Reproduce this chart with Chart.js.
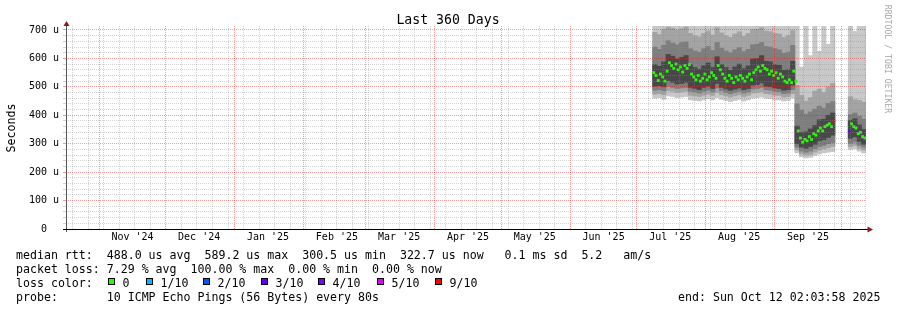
<!DOCTYPE html>
<html>
<head>
<meta charset="utf-8">
<script src="https://cdn.jsdelivr.net/npm/chart.js"></script>
<style>
  html, body { margin: 0; padding: 0; background: #fff; overflow: hidden; }
  #wrap { position: relative; width: 897px; height: 310px; font-family: 'DejaVu Sans Mono', monospace; color: #000; }
  #myChart { position: absolute; left: 0; top: 0; }
  .row { position: absolute; left: 16px; white-space: pre; font-size: 11.6px; line-height: 14px; }
  #title { position: absolute; left: 0; top: 11.5px; width: 896px; text-align: center; font-size: 13.2px; line-height: 16px; white-space: pre; }
  #ylab { position: absolute; left: -29px; top: 120.5px; width: 80px; height: 14px; line-height: 14px; text-align: center; font-size: 11.6px; transform: rotate(-90deg); }
  #mark { position: absolute; left: 828px; top: 54px; width: 120px; height: 10px; line-height: 10px; text-align: center; font-size: 8.2px; color: #a8a8a8; transform: rotate(90deg); white-space: pre; }
  .box { position: absolute; width: 7px; height: 7px; box-sizing: border-box; border: 1px solid #000; top: 278px; }
  .boxlab { position: absolute; top: 275.5px; font-size: 11.6px; line-height: 14px; white-space: pre; }
</style>
</head>
<body>
<div id="wrap">
  <canvas id="myChart" width="897" height="310"></canvas>
  <div id="title">Last 360 Days</div>
  <div id="ylab">Seconds</div>
  <div id="mark">RRDTOOL / TOBI OETIKER</div>
  <div class="row" style="top:247.5px">median rtt:  488.0 us avg  589.2 us max  300.5 us min  322.7 us now   0.1 ms sd  5.2   am/s</div>
  <div class="row" style="top:261.5px">packet loss: 7.29 % avg  100.00 % max  0.00 % min  0.00 % now</div>
  <div class="row" style="top:275.5px">loss color:</div>
  <div class="row" style="top:289.5px">probe:       10 ICMP Echo Pings (56 Bytes) every 80s</div>
  <div class="row" style="top:289.5px; left:678px">end: Sun Oct 12 02:03:58 2025</div>
</div>
<script>
const DAY = 86400000;
const endTime = Date.UTC(2025, 9, 12, 2, 3, 58);
const spanDays = 360;
const startTime = endTime - spanDays * DAY;

// tick labels
const monthLabels = ["Nov '24", "Dec '24", "Jan '25", "Feb '25", "Mar '25", "Apr '25", "May '25", "Jun '25", "Jul '25", "Aug '25", "Sep '25"];
const yLabels = ['0  ', '100 u', '200 u', '300 u', '400 u', '500 u', '600 u', '700 u'];
const yMax = 714;

// loss legend
const lossLabels = ['0', '1/10', '2/10', '3/10', '4/10', '5/10', '9/10'];
const lossColors = ['#26ff00', '#00b8ff', '#0059ff', '#5e00ff', '#7e00ff', '#dd00ff', '#ff0000'];

// smoke, one slot = 2 days, value = slot centre (days since start), rtt in us
const smokeDays = [265, 267, 269, 271, 273, 275, 277, 279, 281, 283, 285, 287, 289, 291, 293, 295,
  297, 299, 301, 303, 305, 307, 309, 311, 313, 315, 317, 319, 321, 323, 325, 327,
  329, 331, 333, 335, 337, 339, 341, 343, 345,
  353, 355, 357, 359];
const smokeMax = [720, 720, 720, 720, 720, 720, 720, 720, 720, 720, 720, 720, 720, 720, 720, 720,
  720, 720, 720, 720, 720, 720, 720, 720, 720, 720, 720, 720, 720, 720, 720, 720,
  720, 570, 720, 610, 720, 625, 720, 650, 720,
  720, 695, 720, 720];
const smokeHi2 = [692, 684, 702, 710, 706, 700, 704, 710, 688, 680, 676, 688, 696, 682, 708, 690,
  680, 674, 686, 694, 678, 688, 702, 702, 708, 696, 694, 688, 686, 674, 680, 698,
  505, 470, 450, 462, 485, 492, 480, 500, 512,
  465, 455, 452, 446];
const smokeHi3 = [640, 632, 646, 662, 654, 648, 656, 658, 634, 626, 622, 634, 642, 628, 656, 636,
  626, 620, 630, 638, 624, 632, 648, 650, 656, 642, 640, 634, 630, 618, 622, 646,
  440, 418, 404, 412, 422, 432, 425, 442, 448,
  402, 408, 396, 386];
const smokeHi4 = [578, 572, 588, 614, 608, 598, 604, 610, 578, 568, 562, 574, 584, 568, 606, 578,
  568, 558, 570, 580, 564, 574, 598, 600, 610, 590, 588, 578, 576, 558, 560, 590,
  362, 340, 342, 352, 364, 384, 386, 400, 408,
  382, 388, 366, 350];
const smokeLo4 = [502, 504, 500, 522, 516, 510, 512, 516, 498, 494, 490, 498, 502, 494, 512, 498,
  492, 488, 492, 496, 490, 494, 506, 508, 514, 502, 500, 496, 494, 488, 490, 506,
  300, 288, 284, 290, 298, 310, 314, 322, 330,
  318, 324, 308, 298];
const smokeLo3 = [488, 490, 486, 502, 498, 494, 496, 498, 484, 482, 478, 484, 488, 482, 496, 486,
  480, 476, 480, 484, 478, 482, 492, 494, 498, 490, 488, 484, 482, 476, 478, 490,
  288, 274, 270, 274, 282, 290, 294, 300, 304,
  302, 306, 294, 288];
const smokeLo2 = [474, 476, 472, 486, 484, 480, 482, 484, 470, 468, 466, 470, 474, 470, 480, 472,
  468, 464, 468, 472, 466, 470, 478, 480, 482, 476, 474, 470, 470, 464, 466, 476,
  278, 264, 260, 262, 270, 278, 282, 286, 290,
  290, 294, 284, 278];
const smokeMin = [460, 462, 456, 468, 466, 462, 464, 466, 454, 452, 450, 454, 458, 454, 462, 456,
  452, 448, 452, 456, 450, 454, 460, 462, 464, 460, 458, 454, 454, 450, 452, 460,
  268, 254, 250, 252, 258, 264, 268, 270, 272,
  280, 282, 274, 268];

// daily median rtt, three runs of data
const medianStart = [264, 329, 352];
const medianJul = [550, 540, 522, 545, 535, 520, 555, 585, 575, 565, 580, 560, 570, 552, 575, 565,
  578, 545, 535, 525, 540, 520, 530, 545, 525, 535, 550, 540, 530, 575, 560, 545,
  530, 520, 540, 530, 515, 535, 525, 540, 530, 520, 535, 545, 525, 550, 560, 570,
  555, 575, 565, 560, 545, 555, 540, 550, 530, 545, 535, 520, 515, 525, 515, 555, 520];
const medianSep = [345, 320, 305, 315, 310, 325, 315, 335, 330, 345, 355, 345, 360, 365, 370, 360, 380];
const medianOct = [342, 370, 360, 355, 335, 340, 325, 320];
const lossDays = [345, 352];
const lossLevel = ['9/10', '3/10'];

// ---------- build
const toDay = t => (t - startTime) / DAY;
const monthMid = monthLabels.map((m, i) => toDay(Date.UTC(2024, 10 + i, 16)));

const monthLines = [];
for (let i = 0; i < 12; i++) monthLines.push(toDay(Date.UTC(2024, 10 + i, 1)));
const weekLines = [];
for (let d = toDay(Date.UTC(2024, 9, 20)); d < spanDays; d += 7) {
    if (!monthLines.some(m => Math.abs(m - d) < 0.5)) weekLines.push(d);
}

const yGrid = [];
for (let v = 0; v <= 700; v += 20) yGrid.push(v);

const minorGrid = 'rgba(140,140,140,0.38)';
const majorGrid = 'rgba(230,30,30,0.45)';

function band(lo, hi, color, order) {
    return {
        type: 'bar',
        data: smokeDays.map((d, i) => ({ x: d, y: [lo[i], hi[i]] })),
        backgroundColor: color,
        borderWidth: 0,
        grouped: false,
        barPercentage: 1,
        categoryPercentage: 1,
        clip: 0,
        order: order
    };
}

function gridAxis(values, color) {
    return {
        type: 'linear',
        position: 'bottom',
        min: 0,
        max: spanDays,
        offset: false,
        afterBuildTicks: s => { s.ticks = values.map(v => ({ value: v })); },
        afterFit: s => { s.height = 0; },
        grid: { color: color, z: 1, drawTicks: false, offset: false },
        border: { display: false, dash: [1, 1] },
        ticks: { display: false }
    };
}

const medianPoints = [];
[medianJul, medianSep, medianOct].forEach((run, r) => {
    run.forEach((v, i) => {
        const day = medianStart[r] + i;
        const k = lossDays.indexOf(day);
        const c = k < 0 ? lossColors[0] : lossColors[lossLabels.indexOf(lossLevel[k])];
        medianPoints.push({ x: day + 0.5, y: v, c: c });
    });
});

const axesPlugin = {
    id: 'rrdAxes',
    afterDraw(chart) {
        const { ctx, chartArea: a } = chart;
        const ax = a.left + 0.5;
        ctx.save();
        ctx.lineWidth = 1;
        ctx.strokeStyle = '#555';
        ctx.beginPath();
        ctx.moveTo(ax, a.bottom + 3);
        ctx.lineTo(ax, a.top - 2);
        ctx.stroke();
        ctx.strokeStyle = '#000';
        ctx.beginPath();
        ctx.moveTo(a.left - 3, a.bottom + 0.5);
        ctx.lineTo(a.right + 2, a.bottom + 0.5);
        ctx.stroke();
        ctx.fillStyle = '#8a1a1a';
        ctx.beginPath();
        ctx.moveTo(ax - 3, a.top);
        ctx.lineTo(ax + 3, a.top);
        ctx.lineTo(ax, a.top - 5);
        ctx.closePath();
        ctx.fill();
        ctx.beginPath();
        ctx.moveTo(a.right + 1.5, a.bottom - 2.5);
        ctx.lineTo(a.right + 1.5, a.bottom + 3.5);
        ctx.lineTo(a.right + 7, a.bottom + 0.5);
        ctx.closePath();
        ctx.fill();
        ctx.restore();
    }
};

const tickFont = { family: "'DejaVu Sans Mono'", size: 10 };

new Chart(document.getElementById('myChart'), {
    type: 'bar',
    data: {
        datasets: [
            {
                type: 'line',
                data: medianPoints,
                showLine: false,
                pointStyle: 'rect',
                pointRadius: 2,
                pointBorderWidth: 0,
                pointBackgroundColor: c => c.raw ? c.raw.c : lossColors[0],
                order: 0
            },
            band(smokeLo4, smokeHi4, '#484848', 1),
            band(smokeLo3, smokeHi3, '#7e7e7e', 2),
            band(smokeLo2, smokeHi2, '#a4a4a4', 3),
            band(smokeMin, smokeMax, '#c8c8c8', 4)
        ]
    },
    options: {
        responsive: false,
        animation: false,
        devicePixelRatio: 1,
        layout: { padding: { left: 0, top: 26, right: 31, bottom: 0 } },
        scales: {
            x: {
                type: 'linear',
                position: 'bottom',
                min: 0,
                max: spanDays,
                offset: false,
                afterBuildTicks: s => { s.ticks = monthMid.map(v => ({ value: v })); },
                afterFit: s => { s.height = 81; },
                grid: { display: false, drawTicks: false, offset: false },
                border: { display: false },
                ticks: {
                    autoSkip: false,
                    maxRotation: 0,
                    padding: 2,
                    color: '#000',
                    font: tickFont,
                    callback: (v, i) => monthLabels[i]
                }
            },
            xWeek: gridAxis(weekLines, minorGrid),
            xMonth: gridAxis(monthLines, majorGrid),
            y: {
                min: 0,
                max: yMax,
                afterBuildTicks: s => { s.ticks = yGrid.map(v => ({ value: v })); },
                afterFit: s => { s.width = 66; },
                grid: {
                    color: c => (c.tick && c.tick.value % 100 === 0) ? majorGrid : minorGrid,
                    z: 1,
                    drawTicks: true,
                    tickLength: 3
                },
                border: { display: false, dash: [1, 1] },
                ticks: {
                    autoSkip: false,
                    padding: 4,
                    color: '#000',
                    font: tickFont,
                    callback: v => v % 100 === 0 ? yLabels[v / 100] : ''
                }
            }
        },
        plugins: {
            legend: { display: false },
            title: { display: false },
            tooltip: { enabled: false }
        }
    },
    plugins: [axesPlugin]
});

// loss colour legend row
const lossBoxX = [108, 146, 203, 261, 318, 377, 435];
const wrap = document.getElementById('wrap');
lossLabels.forEach((lab, i) => {
    const b = document.createElement('div');
    b.className = 'box';
    b.style.left = lossBoxX[i] + 'px';
    b.style.background = lossColors[i];
    wrap.appendChild(b);
    const t = document.createElement('div');
    t.className = 'boxlab';
    t.style.left = (lossBoxX[i] + 14.5) + 'px';
    t.textContent = lab;
    wrap.appendChild(t);
});
</script>
</body>
</html>
